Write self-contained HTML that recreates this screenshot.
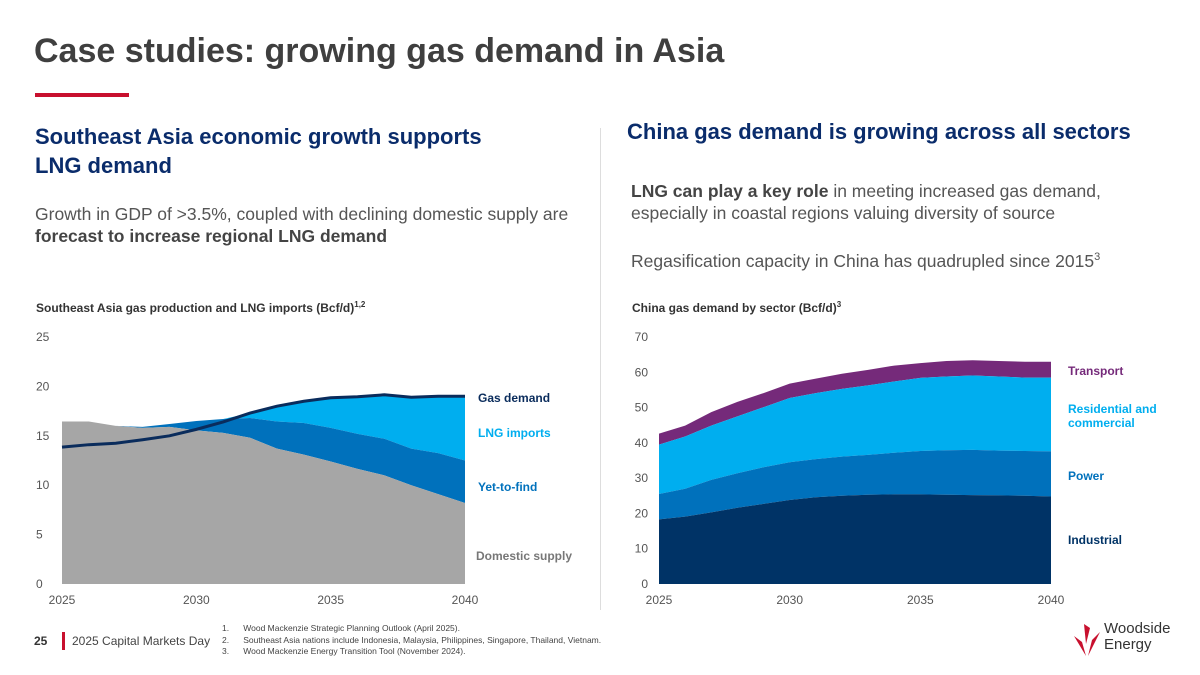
<!DOCTYPE html>
<html><head><meta charset="utf-8"><style>
body{margin:0;width:1200px;height:675px;overflow:hidden;background:#fff;font-family:"Liberation Sans",sans-serif;position:relative;color:#555}
.a{position:absolute;white-space:nowrap}
</style></head><body>
<div class="a" style="left:34px;top:32px;font-size:34px;font-weight:bold;color:#3f3f3f">Case studies: growing gas demand in Asia</div>
<div class="a" style="left:35px;top:93px;width:94px;height:4px;background:#c8102e"></div>
<div class="a" style="left:35px;top:122px;font-size:22px;font-weight:bold;color:#0a2c6b;line-height:29px">Southeast Asia economic growth supports<br>LNG demand</div>
<div class="a" style="left:35px;top:203px;font-size:17.5px;line-height:22px;color:#555">Growth in GDP of &gt;3.5%, coupled with declining domestic supply are<br><b style="color:#444">forecast to increase regional LNG demand</b></div>
<div class="a" style="left:600px;top:128px;width:1px;height:482px;background:#ddd"></div>
<div class="a" style="left:627px;top:119px;font-size:22px;font-weight:bold;color:#0a2c6b">China gas demand is growing across all sectors</div>
<div class="a" style="left:631px;top:180px;font-size:17.5px;line-height:22px;color:#555"><b style="color:#444">LNG can play a key role</b> in meeting increased gas demand,<br>especially in coastal regions valuing diversity of source<br><br>Regasification capacity in China has quadrupled since 2015<sup style="font-size:11px">3</sup></div>
<div class="a" style="left:36px;top:300px;font-size:12px;font-weight:bold;color:#333">Southeast Asia gas production and LNG imports (Bcf/d)<sup style="font-size:8px">1,2</sup></div>
<div class="a" style="left:632px;top:300px;font-size:12px;font-weight:bold;color:#333">China gas demand by sector (Bcf/d)<sup style="font-size:8px">3</sup></div>
<svg class="a" style="left:0;top:0" width="1200" height="675" id="charts"></svg>
<div class="a" style="left:34px;top:634px;font-size:12px;font-weight:bold;color:#333">25</div>
<div class="a" style="left:62px;top:632px;width:3px;height:18px;background:#c8102e"></div>
<div class="a" style="left:72px;top:634px;font-size:12px;color:#444">2025 Capital Markets Day</div>
<div class="a" style="left:222px;top:623px;font-size:8.5px;line-height:11.5px;color:#444">1.&nbsp;&nbsp;&nbsp;&nbsp;&nbsp;&nbsp;Wood Mackenzie Strategic Planning Outlook (April 2025).<br>2.&nbsp;&nbsp;&nbsp;&nbsp;&nbsp;&nbsp;Southeast Asia nations include Indonesia, Malaysia, Philippines, Singapore, Thailand, Vietnam.<br>3.&nbsp;&nbsp;&nbsp;&nbsp;&nbsp;&nbsp;Wood Mackenzie Energy Transition Tool (November 2024).</div>
<svg class="a" style="left:1070px;top:622px" width="34" height="36"><path d="M14 2 L20 6 L16 22 Z M4 14 L12 20 L16 34 Z M30 10 L18 34 L22 18 Z" fill="#c8102e"/></svg>
<div class="a" style="left:1104px;top:621px;font-size:15px;line-height:16px;color:#333">Woodside<br>Energy</div>
<script>
const NS="http://www.w3.org/2000/svg";
const svg=document.getElementById('charts');
const years=[2025,2026,2027,2028,2029,2030,2031,2032,2033,2034,2035,2036,2037,2038,2039,2040];
// left chart
const domesticSupply=[16.45,16.45,16.0,15.8,15.9,15.55,15.3,14.8,13.7,13.1,12.4,11.65,11.0,10.0,9.1,8.2];
const yetToFind=[0,0,0,0.1,0.3,0.95,1.4,2.0,2.75,3.2,3.4,3.55,3.7,3.7,4.15,4.3];
const gasDemand=[13.85,14.1,14.25,14.6,15.0,15.65,16.4,17.3,18.0,18.5,18.85,18.95,19.15,18.9,19.0,19.0];
const leftTicks=[0,5,10,15,20,25];
const xTicks=[2025,2030,2035,2040];
// right chart
const industrial=[18.3,19.1,20.3,21.6,22.7,23.8,24.6,25.0,25.3,25.4,25.4,25.3,25.2,25.1,25.0,24.8];
const power=[7.2,7.9,9.2,9.8,10.4,10.7,10.8,11.1,11.3,11.8,12.3,12.6,12.8,12.7,12.7,12.8];
const residential=[14.0,14.8,15.4,16.1,17.0,18.2,18.7,19.2,19.7,20.2,20.7,20.9,21.1,21.0,20.8,20.9];
const transport=[3.1,3.1,3.8,4.1,4.0,4.1,4.1,4.3,4.4,4.5,4.2,4.4,4.3,4.4,4.5,4.5];
const rightTicks=[0,10,20,30,40,50,60,70];

function el(tag,attrs,name,parent){const e=document.createElementNS(NS,tag);for(const k in attrs)e.setAttribute(k,attrs[k]);


(parent||svg).appendChild(e);return e;}
function txt(x,y,s,name,opts){const t=el('text',Object.assign({x:x,y:y,'font-size':12,fill:'#555','font-family':'Liberation Sans, sans-serif'},opts||{}),name);t.textContent=s;return t;}
function area(xf,yf,lo,hi,fill,name){let d='';years.forEach((y,i)=>{d+=(i?'L':'M')+xf(y)+' '+yf(hi[i]);});
for(let i=years.length-1;i>=0;i--)d+='L'+xf(years[i])+' '+yf(lo[i]);el('path',{d:d+'Z',fill:fill},name);}

const lx=y=>62+(y-2025)/15*403, ly=v=>584-v/25*247;
leftTicks.forEach(t=>txt(36,ly(t)+4,String(t),'left-y-tick-'+t));
xTicks.forEach(t=>txt(lx(t),604,String(t),'left-x-tick-'+t,{'text-anchor':'middle'}));
const zero=years.map(()=>0);
const supply=domesticSupply.map((d,i)=>d+yetToFind[i]);
const lngTop=supply.map((s,i)=>Math.max(s,gasDemand[i]));
area(lx,ly,supply,lngTop,'#00aeef','lng-imports-area');
area(lx,ly,domesticSupply,supply,'#0071bc','yet-to-find-area');
area(lx,ly,zero,domesticSupply,'#a6a6a6','domestic-supply-area');
el('path',{d:years.map((y,i)=>(i?'L':'M')+lx(y)+' '+ly(gasDemand[i])).join(''),fill:'none',stroke:'#0a2c5c','stroke-width':3},'gas-demand-line');
txt(478,402,'Gas demand','legend-gas-demand',{fill:'#0a2c5c','font-weight':'bold'});
txt(478,437,'LNG imports','legend-lng-imports',{fill:'#00aeef','font-weight':'bold'});
txt(478,491,'Yet-to-find','legend-yet-to-find',{fill:'#0071bc','font-weight':'bold'});
txt(476,560,'Domestic supply','legend-domestic-supply',{fill:'#777','font-weight':'bold'});

const rx=y=>659+(y-2025)/15*392, ry=v=>584-v/70*247;
rightTicks.forEach(t=>txt(648,ry(t)+4,String(t),'right-y-tick-'+t,{'text-anchor':'end'}));
xTicks.forEach(t=>txt(rx(t),604,String(t),'right-x-tick-'+t,{'text-anchor':'middle'}));
const c1=industrial, c2=c1.map((v,i)=>v+power[i]), c3=c2.map((v,i)=>v+residential[i]), c4=c3.map((v,i)=>v+transport[i]);
area(rx,ry,c3,c4,'#752a7a','transport-area');
area(rx,ry,c2,c3,'#00aeef','residential-area');
area(rx,ry,c1,c2,'#0071bc','power-area');
area(rx,ry,zero,c1,'#003366','industrial-area');
txt(1068,375,'Transport','legend-transport',{fill:'#752a7a','font-weight':'bold'});
txt(1068,413,'Residential and','legend-residential-1',{fill:'#00aeef','font-weight':'bold'});
txt(1068,427,'commercial','legend-residential-2',{fill:'#00aeef','font-weight':'bold'});
txt(1068,480,'Power','legend-power',{fill:'#0071bc','font-weight':'bold'});
txt(1068,544,'Industrial','legend-industrial',{fill:'#003366','font-weight':'bold'});
</script>
</body></html>
